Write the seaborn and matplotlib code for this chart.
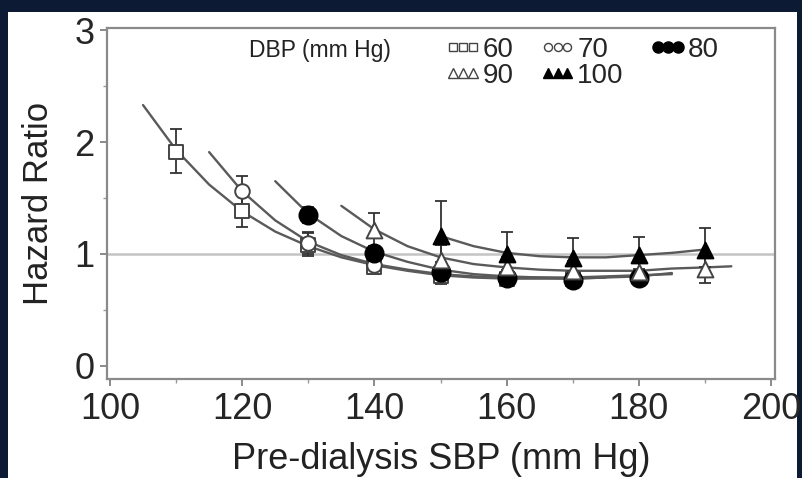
import matplotlib
matplotlib.use("Agg")
import matplotlib.pyplot as plt
from matplotlib.lines import Line2D
from matplotlib.patches import Rectangle
import seaborn as sns
import pandas as pd

# ---------------- data ----------------
dbp_levels = ["60", "70", "80", "90", "100"]

# observed points (SBP, HR, CI low, CI high)
sbp_60 = [110, 120, 130, 140, 150, 160, 170]
hr_60 = [1.91, 1.38, 1.08, 0.88, 0.80, 0.78, 0.78]
lo_60 = [1.72, 1.24, 0.98, 0.82, 0.73, 0.72, 0.72]
hi_60 = [2.12, 1.53, 1.19, 0.95, 0.87, 0.84, 0.85]

sbp_70 = [120, 130, 140, 150, 160, 170, 180]
hr_70 = [1.56, 1.10, 0.90, 0.82, 0.78, 0.78, 0.80]
lo_70 = [1.42, 1.00, 0.84, 0.76, 0.72, 0.72, 0.74]
hi_70 = [1.70, 1.20, 0.97, 0.89, 0.84, 0.84, 0.87]

sbp_80 = [130, 140, 150, 160, 170, 180]
hr_80 = [1.35, 1.01, 0.84, 0.79, 0.77, 0.79]
lo_80 = [1.28, 0.95, 0.79, 0.74, 0.72, 0.74]
hi_80 = [1.42, 1.07, 0.89, 0.84, 0.82, 0.84]

sbp_90 = [140, 150, 160, 170, 180, 190]
hr_90 = [1.21, 0.95, 0.88, 0.85, 0.84, 0.87]
lo_90 = [1.06, 0.84, 0.80, 0.77, 0.76, 0.74]
hi_90 = [1.37, 1.08, 0.97, 0.94, 0.93, 0.99]

sbp_100 = [150, 160, 170, 180, 190]
hr_100 = [1.16, 1.00, 0.96, 0.99, 1.04]
lo_100 = [0.93, 0.86, 0.82, 0.85, 0.88]
hi_100 = [1.47, 1.20, 1.14, 1.15, 1.23]

# fitted curves
curve_sbp_60 = [105, 110, 115, 120, 125, 130, 135, 140, 145, 150, 155, 160, 165, 170, 175]
curve_hr_60 = [2.33, 1.93, 1.62, 1.38, 1.20, 1.07, 0.97, 0.90, 0.85, 0.81, 0.79, 0.78, 0.78, 0.78, 0.79]
curve_sbp_70 = [115, 120, 125, 130, 135, 140, 145, 150, 155, 160, 165, 170, 175, 180, 185]
curve_hr_70 = [1.91, 1.56, 1.30, 1.11, 0.99, 0.91, 0.86, 0.82, 0.80, 0.79, 0.79, 0.79, 0.80, 0.81, 0.82]
curve_sbp_80 = [125, 130, 135, 140, 145, 150, 155, 160, 165, 170, 175, 180, 185]
curve_hr_80 = [1.65, 1.36, 1.16, 1.02, 0.93, 0.86, 0.82, 0.80, 0.79, 0.78, 0.79, 0.80, 0.83]
curve_sbp_90 = [135, 140, 145, 150, 155, 160, 165, 170, 175, 180, 185, 190, 194]
curve_hr_90 = [1.43, 1.22, 1.07, 0.97, 0.91, 0.88, 0.86, 0.85, 0.85, 0.85, 0.87, 0.88, 0.89]
curve_sbp_100 = [150, 155, 160, 165, 170, 175, 180, 185, 190]
curve_hr_100 = [1.16, 1.07, 1.01, 0.98, 0.97, 0.97, 0.99, 1.01, 1.04]

x_ticks = [100, 120, 140, 160, 180, 200]
y_ticks = [0, 1, 2, 3]
x_label = "Pre-dialysis SBP (mm Hg)"
y_label = "Hazard Ratio"
legend_title = "DBP (mm Hg)"

points = {
    "60": (sbp_60, hr_60, lo_60, hi_60),
    "70": (sbp_70, hr_70, lo_70, hi_70),
    "80": (sbp_80, hr_80, lo_80, hi_80),
    "90": (sbp_90, hr_90, lo_90, hi_90),
    "100": (sbp_100, hr_100, lo_100, hi_100),
}
curves = {
    "60": (curve_sbp_60, curve_hr_60),
    "70": (curve_sbp_70, curve_hr_70),
    "80": (curve_sbp_80, curve_hr_80),
    "90": (curve_sbp_90, curve_hr_90),
    "100": (curve_sbp_100, curve_hr_100),
}

curve_df = pd.concat(
    [pd.DataFrame({"SBP": s, "HR": h, "DBP": k}) for k, (s, h) in curves.items()],
    ignore_index=True,
)

# styles
styles = {
    "60": dict(marker="s", face="white", edge="#444444", size=100, lsize=5.5),
    "70": dict(marker="o", face="white", edge="#444444", size=110, lsize=5.8),
    "80": dict(marker="o", face="black", edge="black", size=170, lsize=8),
    "90": dict(marker="^", face="white", edge="#444444", size=130, lsize=6.5),
    "100": dict(marker="^", face="black", edge="black", size=130, lsize=7),
}

# ---------------- plot ----------------
sns.set_style("white")
plt.rcParams["font.family"] = ["Liberation Sans", "DejaVu Sans"]

fig = plt.figure(figsize=(8.02, 4.78), dpi=100)
fig.patch.set_facecolor("#0c1a33")
fig.add_artist(Rectangle((8 / 802, 0), (797 - 8) / 802, (478 - 12) / 478,
                         transform=fig.transFigure, facecolor="white",
                         edgecolor="none", zorder=0))
ax = fig.add_axes([107 / 802, (478 - 379.4) / 478, (775 - 107) / 802, (379.4 - 27.8) / 478])
ax.set_facecolor("white")

ax.axhline(1.0, color="#c4c4c4", lw=1.8, zorder=1)

sns.lineplot(data=curve_df, x="SBP", y="HR", units="DBP", estimator=None,
             color="#5a5a5a", lw=1.7, ax=ax, zorder=2, legend=False)

for k in dbp_levels:
    s, h, lo, hi = points[k]
    st = styles[k]
    yerr = [[hv - lv for hv, lv in zip(h, lo)], [uv - hv for hv, uv in zip(h, hi)]]
    ax.errorbar(s, h, yerr=yerr, fmt="none", ecolor="#333333", elinewidth=1.3,
                capsize=4, capthick=1.3, zorder=3)
    sns.scatterplot(x=s, y=h, marker=st["marker"], s=st["size"], color=st["face"],
                    edgecolor=st["edge"], linewidth=1.4, ax=ax, zorder=4, legend=False)

ax.set_xlim(99.55, 200.6)
ax.set_ylim(-0.12, 3.02)
ax.set_xticks(x_ticks)
ax.set_yticks(y_ticks)
ax.set_xticks([110, 130, 150, 170, 190], minor=True)
ax.set_yticks([0.5, 1.5, 2.5], minor=True)
ax.tick_params(axis="both", which="major", direction="out", length=5, width=1.2,
               color="#777777", labelsize=26, pad=4, bottom=True, left=True)
ax.tick_params(axis="both", which="minor", direction="out", length=3, width=1.0,
               color="#999999", bottom=True, left=True)
for sp in ax.spines.values():
    sp.set_color("#8a8a8a")
    sp.set_linewidth(1.6)

ax.set_xlabel(x_label, fontsize=26, labelpad=11, color="#222222")
ax.set_ylabel(y_label, fontsize=25, labelpad=14, color="#222222")

# legend
ax.text(0.212, 0.935, legend_title, transform=ax.transAxes, fontsize=16.5,
        ha="left", va="center", color="#222222")
handles = {}
for k in dbp_levels:
    st = styles[k]
    handles[k] = Line2D([], [], linestyle="none", marker=st["marker"], markersize=st["lsize"],
                        markerfacecolor=st["face"], markeredgecolor=st["edge"],
                        markeredgewidth=1.0, label=k)
order = ["60", "90", "70", "100", "80"]
ax.legend([handles[k] for k in order], order, ncol=3, numpoints=3, frameon=False,
          loc="upper left", bbox_to_anchor=(0.487, 1.01), fontsize=20,
          handlelength=1.3, handletextpad=0.05, columnspacing=0.95,
          labelspacing=0.0, borderaxespad=0.05)

fig.savefig("out.png", dpi=100, facecolor=fig.get_facecolor())
